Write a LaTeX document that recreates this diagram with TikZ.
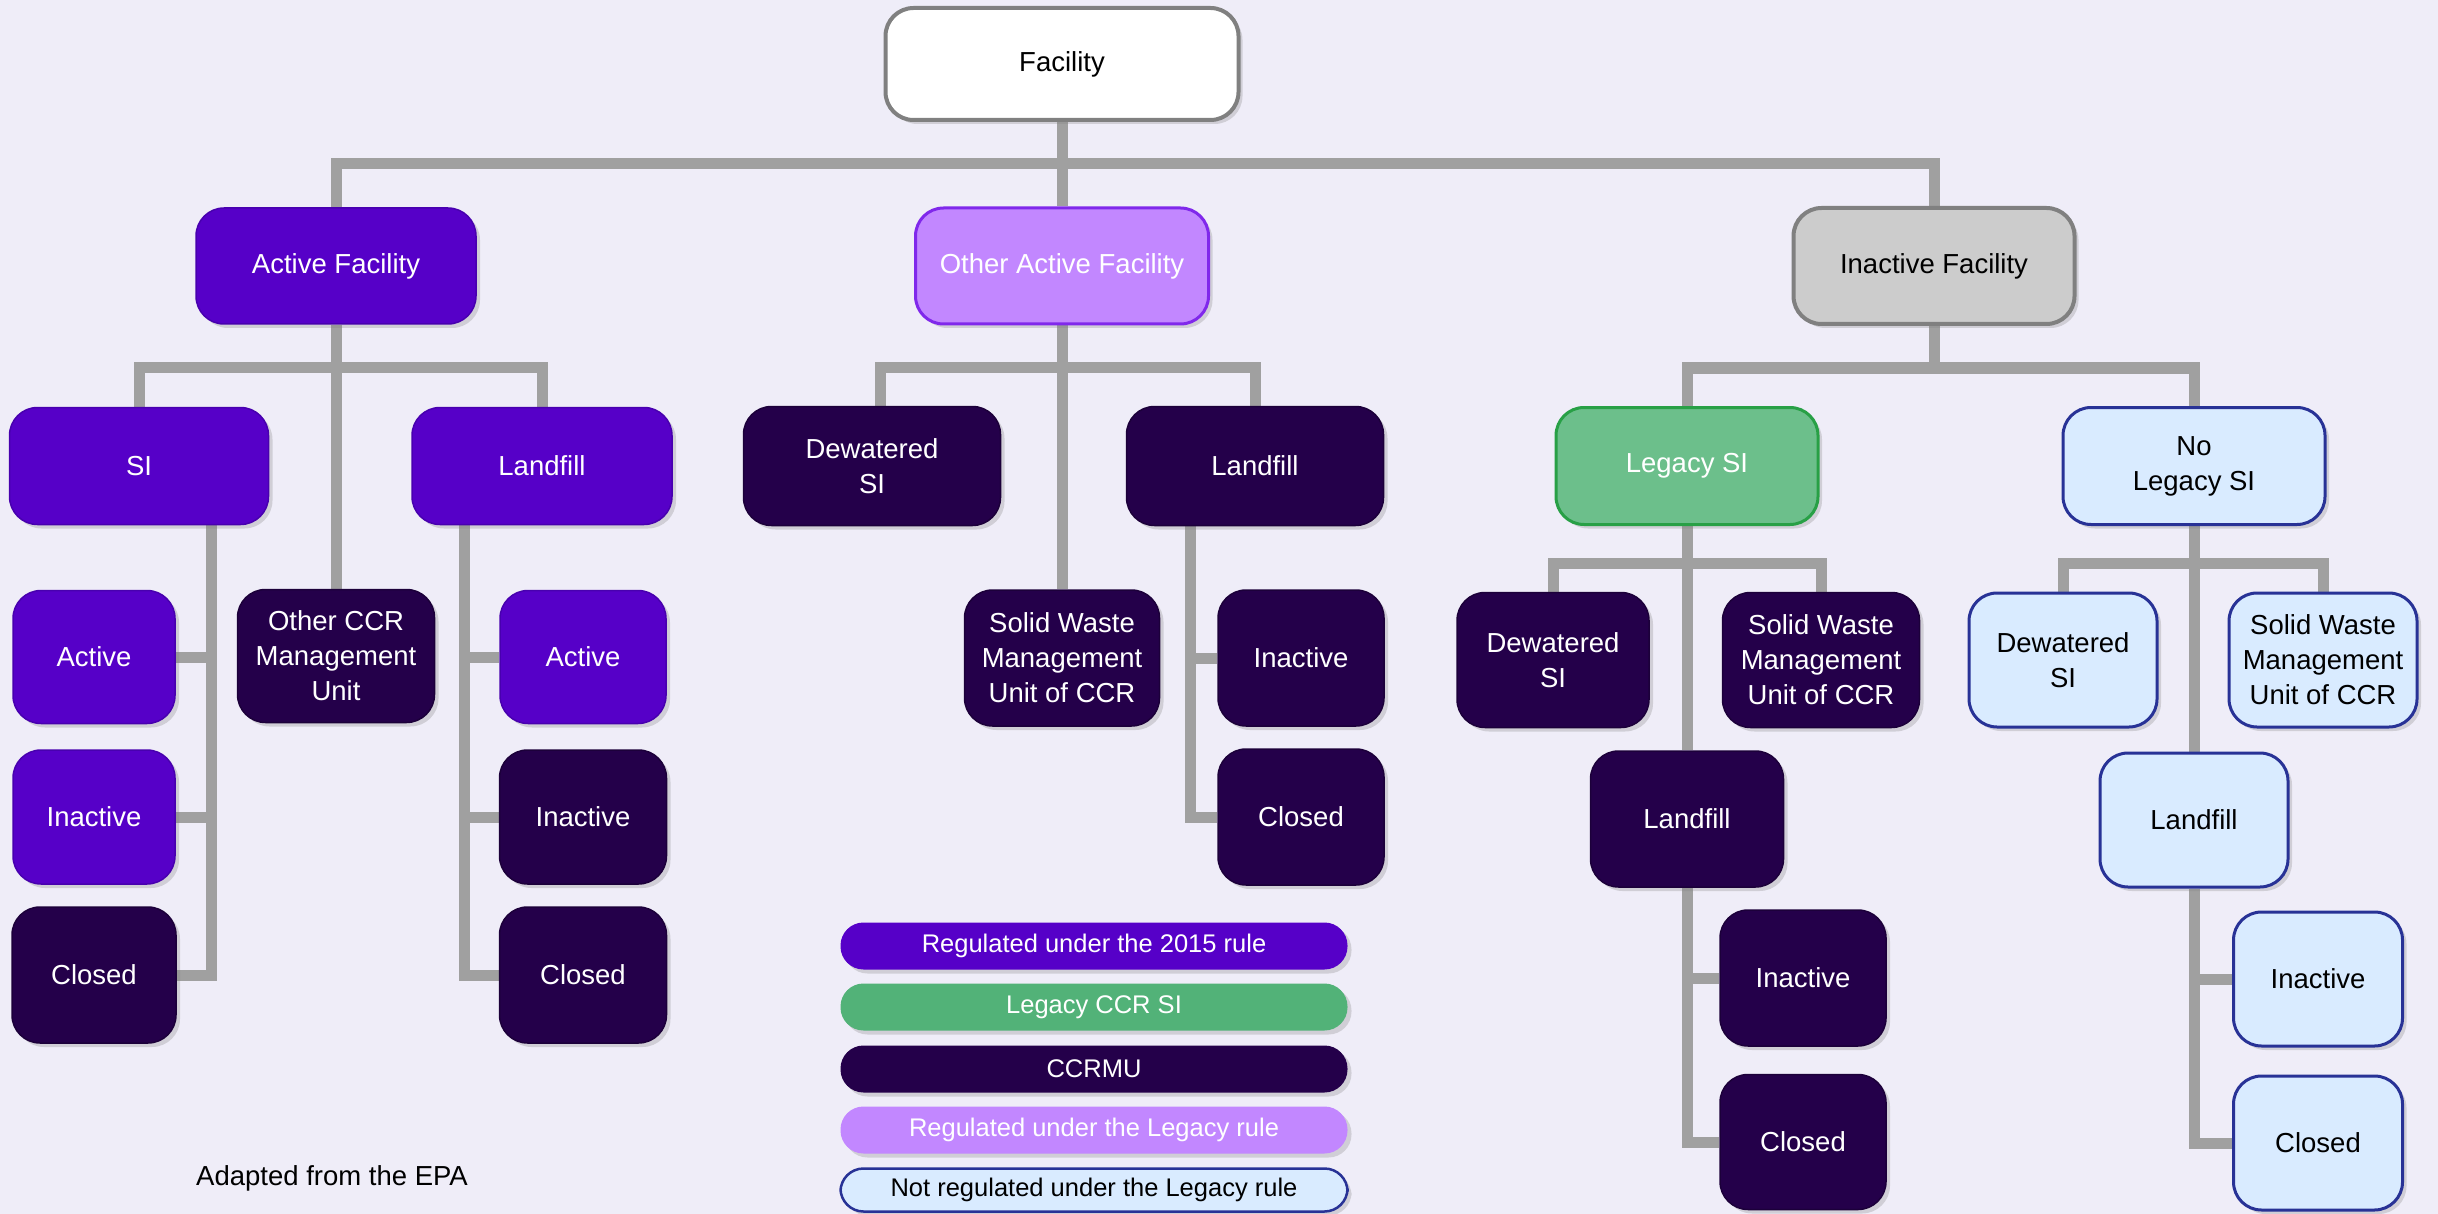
\documentclass[tikz,border=0pt]{standalone}
\usepackage{fontspec}
\setmainfont{Liberation Sans}
\usetikzlibrary{shadows}
\definecolor{bgc}{RGB}{239,237,248}
\definecolor{lineg}{RGB}{160,160,160}
\definecolor{purp}{RGB}{86,0,200}
\definecolor{purpb}{RGB}{72,0,175}
\definecolor{dark}{RGB}{36,0,74}
\definecolor{darkb}{RGB}{28,0,58}
\definecolor{lpurp}{RGB}{194,135,255}
\definecolor{lpurpb}{RGB}{128,40,235}
\definecolor{grayf}{RGB}{204,204,204}
\definecolor{grayb}{RGB}{128,128,128}
\definecolor{greenf}{RGB}{108,191,139}
\definecolor{greenb}{RGB}{40,160,70}
\definecolor{greenl}{RGB}{82,178,120}
\definecolor{bluef}{RGB}{217,235,255}
\definecolor{blueb}{RGB}{40,50,150}
\pgfdeclarelayer{bg}
\pgfdeclarelayer{lines}
\pgfsetlayers{bg,lines,main}
\begin{document}
\begin{tikzpicture}[x=1pt,y=-1pt,
  sz/.style n args={2}{minimum width=#1pt,minimum height=#2pt},
  box/.style={rounded corners=28pt, align=center, inner sep=0pt,
    font=\fontsize{27.5}{35}\selectfont,
    drop shadow={shadow xshift=4pt,shadow yshift=-4pt,opacity=0.28}},
  whitebox/.style={box, fill=white, draw=grayb, line width=4pt, text=black},
  graybox/.style={box, fill=grayf, draw=grayb, line width=4pt, text=black},
  purpbox/.style={box, fill=purp, draw=purpb, line width=1.5pt, text=white},
  lpurpbox/.style={box, fill=lpurp, draw=lpurpb, line width=3pt, text=white},
  darkbox/.style={box, fill=dark, draw=darkb, line width=1.5pt, text=white},
  greenbox/.style={box, fill=greenf, draw=greenb, line width=3pt, text=white},
  bluebox/.style={box, fill=bluef, draw=blueb, line width=3pt, text=black},
  pill/.style={rounded corners=23pt, inner sep=0pt, minimum width=507pt, minimum height=47pt,
    font=\fontsize{25.5}{30}\selectfont,
    drop shadow={shadow xshift=4pt,shadow yshift=-4pt,opacity=0.28}},
  conn/.style={draw=lineg, line width=11pt, line join=miter}]

\begin{pgfonlayer}{bg}
\fill[bgc] (0,0) rectangle (2438,1214);
\end{pgfonlayer}
\useasboundingbox (0,0) rectangle (2438,1214);

% level 0 and 1
\node[whitebox, sz={353}{112}] (fac) at (1062,64) {Facility};
\node[purpbox, sz={280}{116}] (actf) at (336,266) {Active Facility};
\node[lpurpbox, sz={293}{116}] (oaf) at (1062,266) {Other Active Facility};
\node[graybox, sz={281}{116}] (inf) at (1934,266) {Inactive Facility};

% active facility branch
\node[purpbox, sz={259}{117}] (si) at (139,466) {SI};
\node[purpbox, sz={260}{117}] (lfa) at (542,466) {Landfill};
\node[darkbox, sz={197}{133}] (ccr) at (336,656) {Other CCR\\Management\\Unit};
\node[purpbox, sz={162}{133}] (sia) at (94,657) {Active};
\node[purpbox, sz={162}{134}] (sii) at (94,817) {Inactive};
\node[darkbox, sz={164}{136}] (sic) at (94,975) {Closed};
\node[purpbox, sz={166}{133}] (lfaa) at (583,657) {Active};
\node[darkbox, sz={167}{134}] (lfai) at (583,817) {Inactive};
\node[darkbox, sz={167}{136}] (lfac) at (583,975) {Closed};

% other active facility branch
\node[darkbox, sz={257}{119}] (dwm) at (872,466) {Dewatered\\SI};
\node[darkbox, sz={257}{119}] (lfm) at (1255,466) {Landfill};
\node[darkbox, sz={195}{136}] (swm) at (1062,658) {Solid Waste\\Management\\Unit of CCR};
\node[darkbox, sz={166}{136}] (inm) at (1301,658) {Inactive};
\node[darkbox, sz={166}{136}] (clm) at (1301,817) {Closed};

% inactive facility - legacy
\node[greenbox, sz={262}{117}] (leg) at (1687,466) {Legacy SI};
\node[darkbox, sz={192}{135}] (dwl) at (1553,660) {Dewatered\\SI};
\node[darkbox, sz={197}{135}] (swl) at (1821,660) {Solid Waste\\Management\\Unit of CCR};
\node[darkbox, sz={193}{136}] (lfl) at (1687,819) {Landfill};
\node[darkbox, sz={166}{136}] (inl) at (1803,978) {Inactive};
\node[darkbox, sz={166}{135}] (cll) at (1803,1142) {Closed};

% inactive facility - no legacy
\node[bluebox, sz={262}{117}] (nol) at (2194,466) {No\\Legacy SI};
\node[bluebox, sz={188}{134}] (dwn) at (2063,660) {Dewatered\\SI};
\node[bluebox, sz={188}{134}] (swn) at (2323,660) {Solid Waste\\Management\\Unit of CCR};
\node[bluebox, sz={188}{134}] (lfn) at (2194,820) {Landfill};
\node[bluebox, sz={169}{134}] (inn) at (2318,979) {Inactive};
\node[bluebox, sz={169}{134}] (cln) at (2318,1143) {Closed};

% legend
\node[pill, fill=purp, text=white] (lg1) at (1094,946) {Regulated under the 2015 rule};
\node[pill, fill=greenl, text=white] (lg2) at (1094,1007) {Legacy CCR SI};
\node[pill, fill=dark, text=white] (lg3) at (1094,1069) {CCRMU};
\node[pill, fill=lpurp, text=white] (lg4) at (1094,1130) {Regulated under the Legacy rule};
\node[pill, fill=bluef, draw=blueb, line width=2.5pt, text=black, minimum height=43pt] (lg5) at (1094,1190) {Not regulated under the Legacy rule};

\node[anchor=base west, inner sep=0pt, font=\fontsize{27.5}{33}\selectfont] (src) at (196,1185) {Adapted from the EPA};

% connectors
\begin{pgfonlayer}{lines}
\draw[conn] (fac.south) -- ++(0,42) -| (actf.north);
\draw[conn] (fac.south) -- (oaf.north);
\draw[conn] (fac.south) -- ++(0,42) -| (inf.north);

\draw[conn] (actf.south) -- ++(0,43) -| (si.north);
\draw[conn] (actf.south) -- ++(0,43) -| (lfa.north);
\draw[conn] (actf.south) -- (ccr.north);
\draw[conn] (si.south -| 211,0) |- (sia.east);
\draw[conn] (si.south -| 211,0) |- (sii.east);
\draw[conn] (si.south -| 211,0) |- (sic.east);
\draw[conn] (lfa.south -| 464,0) |- (lfaa.west);
\draw[conn] (lfa.south -| 464,0) |- (lfai.west);
\draw[conn] (lfa.south -| 464,0) |- (lfac.west);

\draw[conn] (oaf.south) -- ++(0,42) -| (dwm.north -| 880,0);
\draw[conn] (oaf.south) -- ++(0,42) -| (lfm.north);
\draw[conn] (oaf.south) -- (swm.north);
\draw[conn] (lfm.south -| 1190,0) |- (inm.west);
\draw[conn] (lfm.south -| 1190,0) |- (clm.west);

\draw[conn] (inf.south) -- ++(0,42) -| (leg.north);
\draw[conn] (inf.south) -- ++(0,42) -| (nol.north);
\draw[conn] (leg.south) -- ++(0,37) -| (dwl.north);
\draw[conn] (leg.south) -- ++(0,37) -| (swl.north);
\draw[conn] (leg.south) -- (lfl.north);
\draw[conn] (lfl.south) |- (inl.west);
\draw[conn] (lfl.south) |- (cll.west);
\draw[conn] (nol.south) -- ++(0,37) -| (dwn.north);
\draw[conn] (nol.south) -- ++(0,37) -| (swn.north);
\draw[conn] (nol.south) -- (lfn.north);
\draw[conn] (lfn.south) |- (inn.west);
\draw[conn] (lfn.south) |- (cln.west);
\end{pgfonlayer}
\end{tikzpicture}
\end{document}
